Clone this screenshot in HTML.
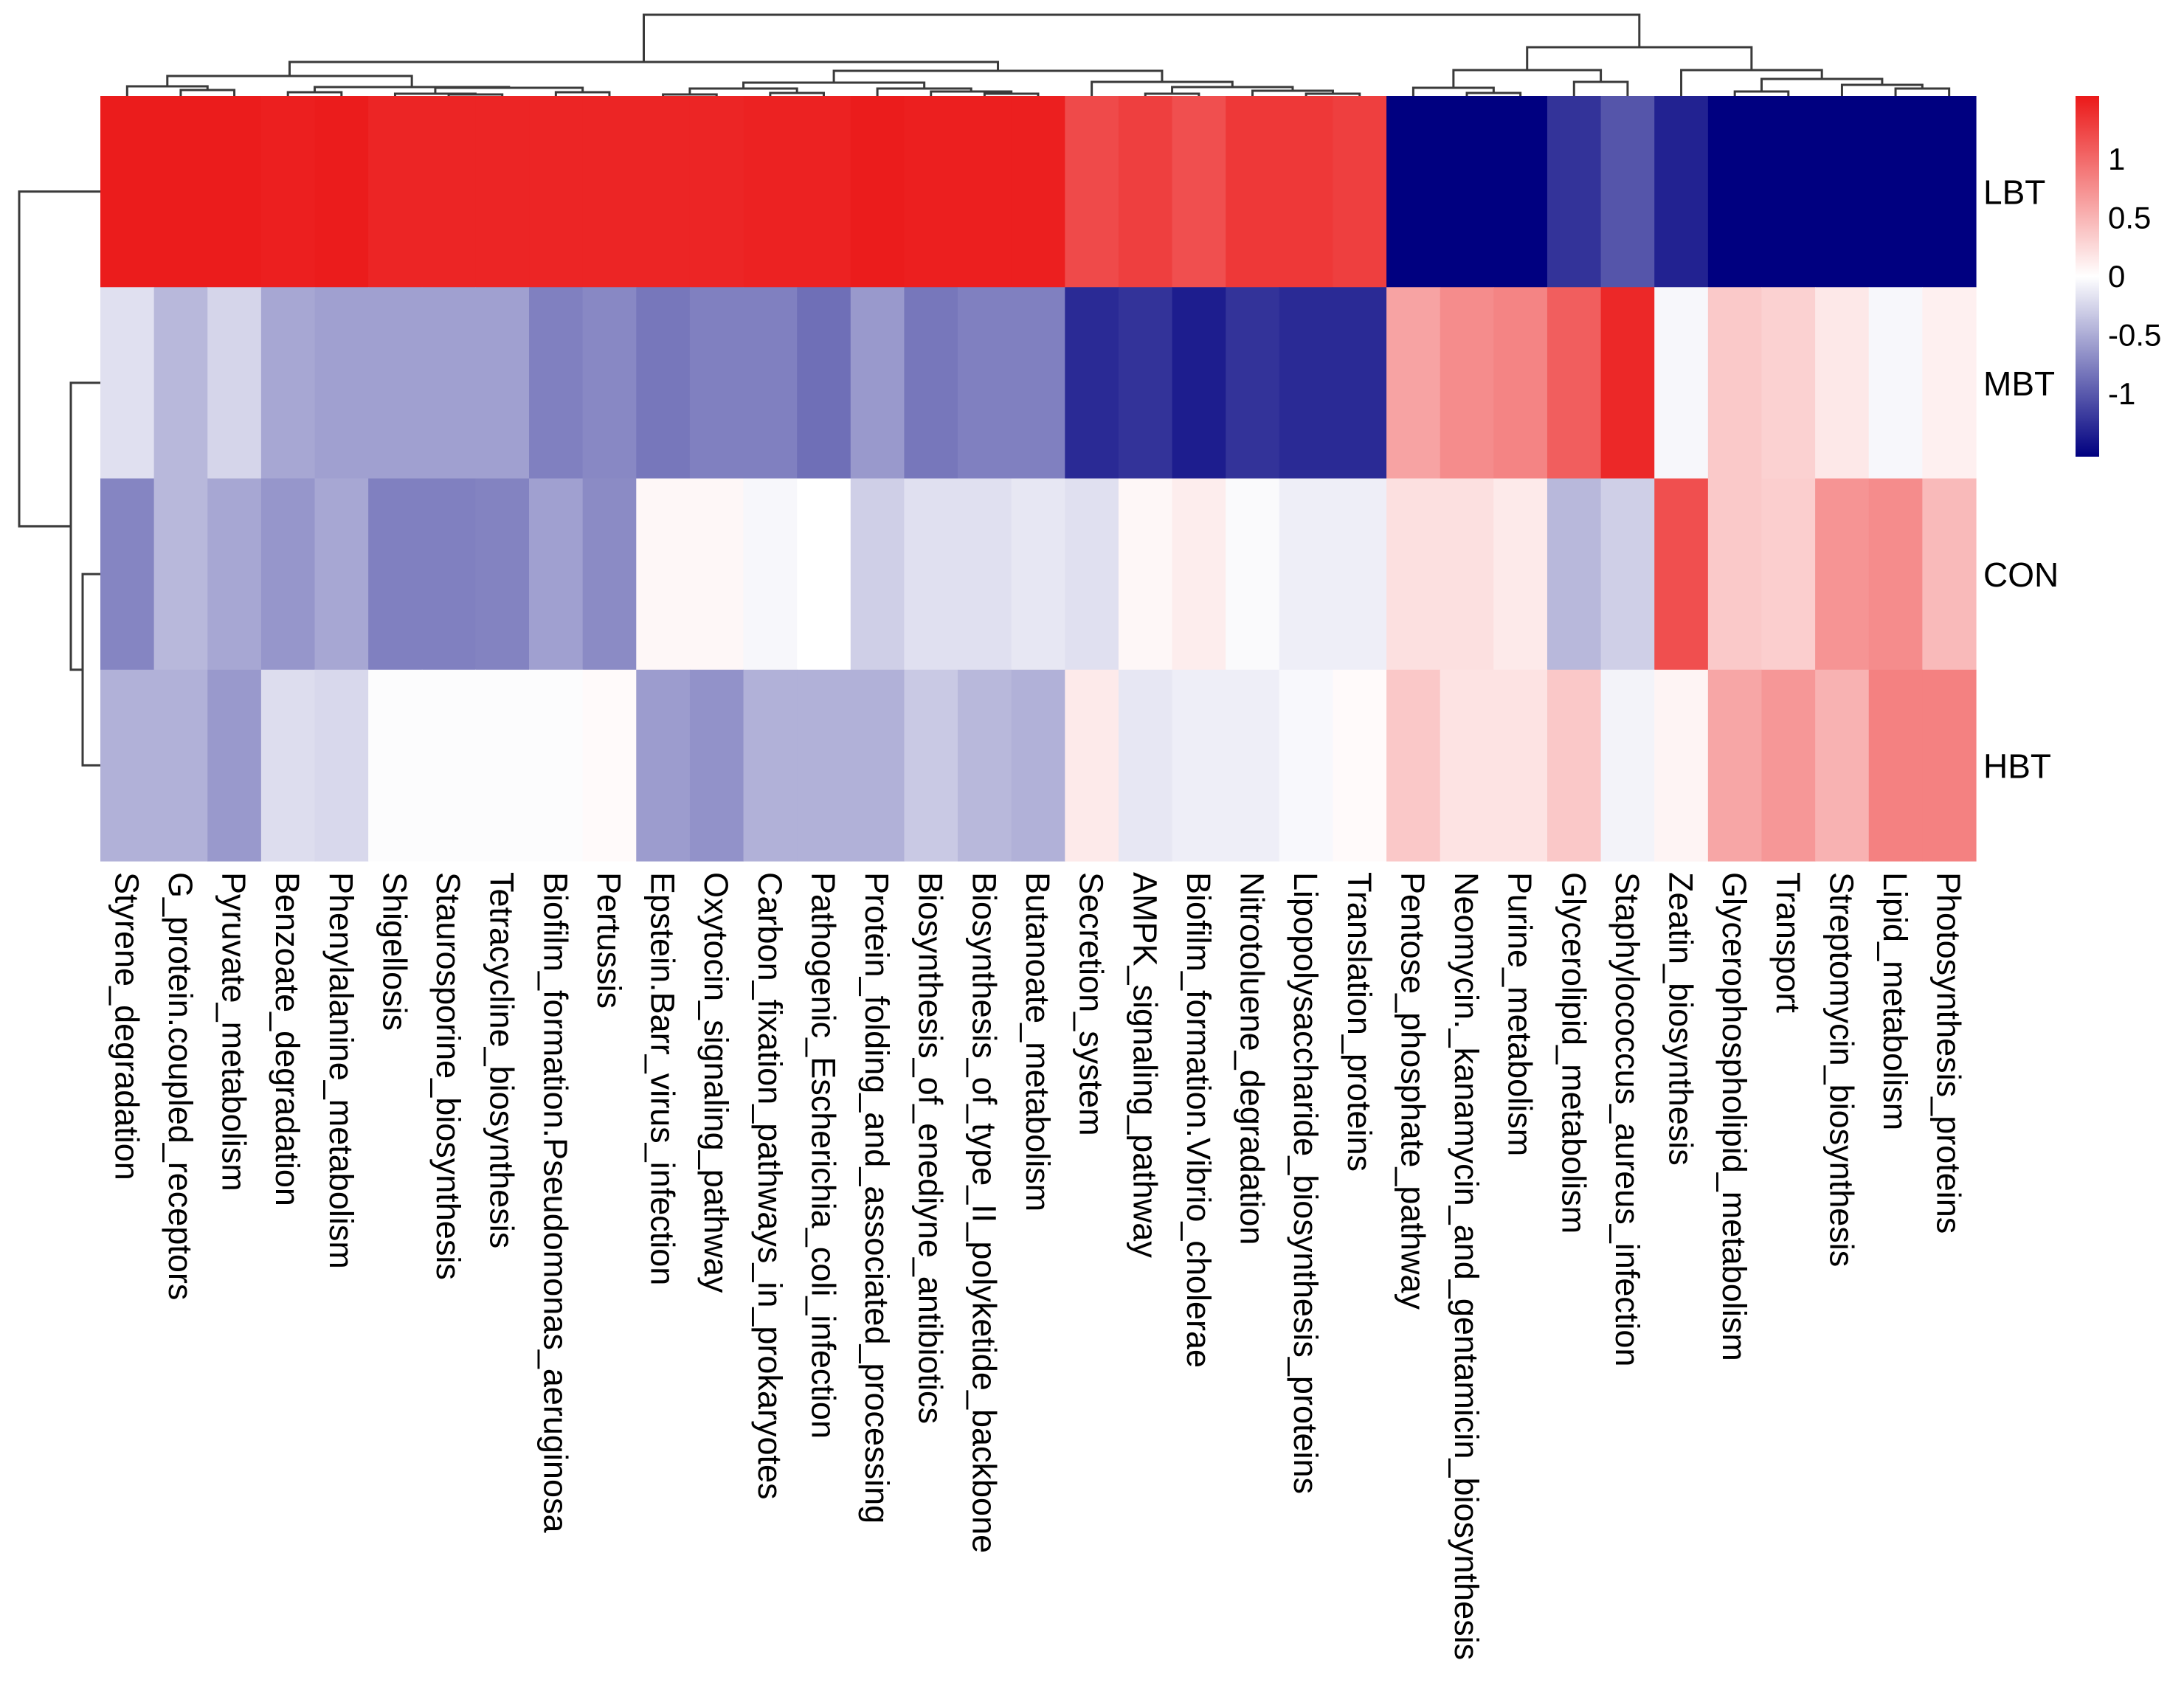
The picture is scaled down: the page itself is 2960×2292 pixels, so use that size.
<!DOCTYPE html>
<html><head><meta charset="utf-8"><style>
html,body{margin:0;padding:0;background:#fff;}
svg{display:block;font-family:"Liberation Sans",Arial,sans-serif;}
</style></head><body>
<svg id="chart" width="2960" height="2292" viewBox="0 0 2960 2292" xmlns="http://www.w3.org/2000/svg">
<defs>
<linearGradient id="lg" x1="0" y1="1" x2="0" y2="0">
<stop offset="0" stop-color="#000080"/>
<stop offset="0.5" stop-color="#ffffff"/>
<stop offset="1" stop-color="#eb1919"/>
</linearGradient>
</defs>
<g id="cells"></g>
<g id="coldend"></g>
<g id="rowdend"></g>
<g id="collabels"></g>
<g id="rowlabels"></g>
<g id="legend">
<rect x="2813" y="130" width="32" height="489" fill="url(#lg)"/>
</g>
</svg>
<script>
const columns = ["Styrene_degradation","G_protein.coupled_receptors","Pyruvate_metabolism","Benzoate_degradation","Phenylalanine_metabolism","Shigellosis","Staurosporine_biosynthesis","Tetracycline_biosynthesis","Biofilm_formation.Pseudomonas_aeruginosa","Pertussis","Epstein.Barr_virus_infection","Oxytocin_signaling_pathway","Carbon_fixation_pathways_in_prokaryotes","Pathogenic_Escherichia_coli_infection","Protein_folding_and_associated_processing","Biosynthesis_of_enediyne_antibiotics","Biosynthesis_of_type_II_polyketide_backbone","Butanoate_metabolism","Secretion_system","AMPK_signaling_pathway","Biofilm_formation.Vibrio_cholerae","Nitrotoluene_degradation","Lipopolysaccharide_biosynthesis_proteins","Translation_proteins","Pentose_phosphate_pathway","Neomycin._kanamycin_and_gentamicin_biosynthesis","Purine_metabolism","Glycerolipid_metabolism","Staphylococcus_aureus_infection","Zeatin_biosynthesis","Glycerophospholipid_metabolism","Transport","Streptomycin_biosynthesis","Lipid_metabolism","Photosynthesis_proteins"];
const rows = ["LBT","MBT","CON","HBT"];
const valsLBT = [1.48,1.48,1.48,1.46,1.48,1.42,1.42,1.42,1.42,1.42,1.42,1.42,1.44,1.44,1.48,1.46,1.46,1.46,1.18,1.25,1.15,1.3,1.3,1.25,-1.5,-1.5,-1.5,-1.2,-1.0,-1.3,-1.5,-1.5,-1.5,-1.5,-1.5];
const valsMBT = [-0.18,-0.42,-0.25,-0.52,-0.56,-0.56,-0.56,-0.56,-0.75,-0.7,-0.8,-0.75,-0.75,-0.85,-0.6,-0.8,-0.75,-0.75,-1.25,-1.2,-1.33,-1.2,-1.25,-1.25,0.6,0.75,0.8,1.05,1.4,-0.05,0.35,0.3,0.15,-0.05,0.1];
const valsCON = [-0.72,-0.42,-0.52,-0.62,-0.52,-0.75,-0.75,-0.73,-0.56,-0.68,0.05,0.05,-0.05,0.0,-0.28,-0.18,-0.18,-0.14,-0.18,0.05,0.12,-0.03,-0.1,-0.1,0.2,0.2,0.14,-0.42,-0.28,1.15,0.35,0.32,0.7,0.75,0.45];
const valsHBT = [-0.46,-0.46,-0.6,-0.2,-0.23,-0.02,-0.02,-0.02,-0.02,0.03,-0.58,-0.64,-0.46,-0.46,-0.46,-0.32,-0.42,-0.46,0.14,-0.14,-0.1,-0.1,-0.04,0.03,0.36,0.18,0.18,0.36,-0.07,0.07,0.58,0.68,0.5,0.82,0.82];
const legendTicks = [1,0.5,0,-0.5,-1];
// column tree: [height, left, right], leaf = column index
const colTree = [110,
  [46,
    [27, [13,0,[8,1,2]], [12,[5,3,4],[11,[3,5,[2,6,7]],[5,8,9]]]],
    [34, [18,[10,[2,10,11],[4,12,13]],[10,14,[6,15,[3,16,17]]]],
         [19,18,[12,[3,19,20],[7,21,[3,22,23]]]]]
  ],
  [66,
    [35,[11,24,[4,25,26]],[19,27,28]],
    [35,29,[23,[6,30,31],[15,32,[10,33,34]]]]
  ]
];
const rowTree = [110, 0, [40, 1, [24, 2, 3]]];

const NS = "http://www.w3.org/2000/svg";
const X0 = 136, X1 = 2678, Y0 = 130, Y1 = 1167;
const cw = (X1 - X0) / columns.length, rh = (Y1 - Y0) / rows.length;
const xOf = i => X0 + cw * i;
const yOf = r => Y0 + rh * r;
const VMAX = 1.5;
function color(v) {
  const t = Math.max(-1, Math.min(1, v / VMAX));
  let r, g, b;
  if (t >= 0) { r = 255 + (235 - 255) * t; g = 255 + (25 - 255) * t; b = 255 + (25 - 255) * t; }
  else { const s = -t; r = 255 * (1 - s); g = 255 * (1 - s); b = 255 + (128 - 255) * s; }
  return `rgb(${Math.round(r)},${Math.round(g)},${Math.round(b)})`;
}
function mk(tag, attrs, parent) {
  const el = document.createElementNS(NS, tag);
  for (const k in attrs) el.setAttribute(k, attrs[k]);
  parent.appendChild(el);
  return el;
}
const cells = document.getElementById('cells');
const allVals = [valsLBT, valsMBT, valsCON, valsHBT];
allVals.forEach((arr, r) => {
  arr.forEach((v, i) => {
    const el = mk('rect', {x: xOf(i), y: yOf(r), width: cw + 0.6, height: rh + 0.6, fill: color(v)}, cells);
    
    
  });
});
const cd = document.getElementById('coldend');
const ln = {stroke: '#3a3a3a', 'stroke-width': 3, fill: 'none'};
function drawCol(node) {
  if (typeof node === 'number') return {x: xOf(node) + cw / 2, y: Y0};
  const a = drawCol(node[1]), b = drawCol(node[2]);
  const y = Y0 - node[0];
  const p = mk('path', Object.assign({d: `M${a.x},${a.y}V${y}H${b.x}V${b.y}`}, ln), cd);
  
  
  return {x: (a.x + b.x) / 2, y: y};
}
drawCol(colTree);
const rd = document.getElementById('rowdend');
function drawRow(node) {
  if (typeof node === 'number') return {y: yOf(node) + rh / 2, x: X0};
  const a = drawRow(node[1]), b = drawRow(node[2]);
  const x = X0 - node[0];
  const p = mk('path', Object.assign({d: `M${a.x},${a.y}H${x}V${b.y}H${b.x}`}, ln), rd);
  
  
  return {x: x, y: (a.y + b.y) / 2};
}
drawRow(rowTree);
const cl = document.getElementById('collabels');
columns.forEach((c, i) => {
  const cx = xOf(i) + cw / 2 - 16;
  const t = mk('text', {x: 0, y: 0, transform: `translate(${cx},1182) rotate(90)`, 'font-size': 45, fill: '#000'}, cl);
  
  
  t.textContent = c;
});
const rl = document.getElementById('rowlabels');
rows.forEach((r, i) => {
  const t = mk('text', {x: 2688, y: yOf(i) + rh / 2 + 17, 'font-size': 46, fill: '#000'}, rl);
  
  
  t.textContent = r;
});
const lg = document.getElementById('legend');
legendTicks.forEach(v => {
  const y = 374 - v * 159;
  const t = mk('text', {x: 2857, y: y + 15, 'font-size': 42, fill: '#000'}, lg);
  
  
  t.textContent = String(v);
});
</script>
</body></html>
